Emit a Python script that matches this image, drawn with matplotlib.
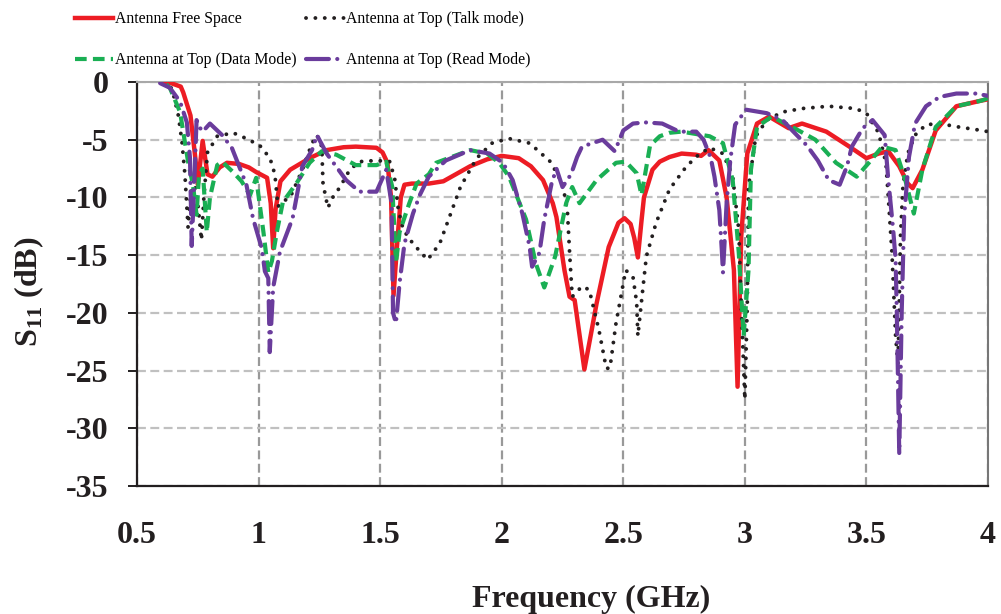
import matplotlib
matplotlib.use('Agg')
import matplotlib.pyplot as plt
from matplotlib import rcParams

rcParams['font.family'] = ['Liberation Serif', 'DejaVu Serif']
rcParams['mathtext.fontset'] = 'custom'
rcParams['mathtext.rm'] = 'Liberation Serif'
rcParams['mathtext.bf'] = 'Liberation Serif:bold'
rcParams['axes.unicode_minus'] = False

TXT = '#231F20'

# S11 curves (frequency in GHz, S11 in dB)
free_f = [0.60, 0.64, 0.68, 0.69, 0.72, 0.74, 0.75, 0.77, 0.79, 0.81, 0.84, 0.87,
          0.92, 0.96, 0.99, 1.035, 1.05, 1.06, 1.07, 1.09, 1.13, 1.21, 1.28, 1.35,
          1.40, 1.485, 1.51, 1.53, 1.545, 1.555, 1.57, 1.585, 1.60, 1.63, 1.70,
          1.76, 1.87, 1.94, 2.00, 2.07, 2.12, 2.17, 2.21, 2.225, 2.258, 2.279, 2.30,
          2.34, 2.37, 2.39, 2.44, 2.48, 2.505, 2.53, 2.545, 2.56, 2.575, 2.585,
          2.62, 2.65, 2.69, 2.74, 2.80, 2.82, 2.85, 2.895, 2.925, 2.955, 2.97,
          2.985, 3.01, 3.05, 3.10, 3.18, 3.235, 3.335, 3.43, 3.50, 3.55, 3.59,
          3.635, 3.67, 3.69, 3.73, 3.785, 3.87, 3.975, 4.00]
free_db = [0.0, -0.1, -0.4, -0.9, -2.9, -6.6, -8.9, -5.1, -8.0, -8.2, -7.4, -7.0,
           -7.1, -7.4, -7.8, -8.3, -10.5, -14.4, -11.0, -8.6, -7.6, -6.6, -5.9, -5.65,
           -5.6, -5.7, -6.1, -7.0, -10.0, -18.5, -14.0, -10.0, -8.9, -8.8, -8.8,
           -8.6, -7.3, -6.7, -6.4, -6.6, -7.3, -8.5, -10.5, -11.7, -16.3, -18.6, -18.9,
           -24.9, -21.5, -19.2, -14.3, -12.2, -11.8, -12.3, -13.5, -15.2, -12.0, -10.0,
           -7.6, -6.9, -6.5, -6.2, -6.3, -6.4, -5.9, -6.8, -10.0, -16.3, -26.4,
           -13.4, -6.2, -3.6, -3.0, -4.0, -3.6, -4.3, -5.6, -6.6, -6.2, -6.0,
           -7.3, -8.8, -9.2, -7.6, -4.2, -2.1, -1.6, -1.5]

talk_f = [0.64, 0.65, 0.67, 0.685, 0.697, 0.71, 0.72, 0.735, 0.75, 0.765, 0.775,
          0.79, 0.83, 0.895, 0.95, 1.005, 1.047, 1.067, 1.08, 1.095, 1.13, 1.18,
          1.22, 1.24, 1.26, 1.265, 1.285, 1.305, 1.335, 1.375, 1.415, 1.485, 1.54,
          1.56, 1.575, 1.595, 1.635, 1.695, 1.745, 1.785, 1.83, 1.897, 1.96, 2.03,
          2.115, 2.20, 2.25, 2.27, 2.28, 2.29, 2.33, 2.36, 2.40, 2.43, 2.445, 2.47,
          2.51, 2.54, 2.555, 2.56, 2.58, 2.595, 2.635, 2.69, 2.76, 2.81, 2.855,
          2.91, 2.95, 2.975, 2.985, 3.00, 3.01, 3.015, 3.045, 3.09, 3.155, 3.235,
          3.345, 3.455, 3.50, 3.55, 3.58, 3.59, 3.605, 3.62, 3.63, 3.64, 3.65,
          3.67, 3.70, 3.745, 3.80, 3.88, 3.975, 4.00]
talk_db = [-0.5, -1.1, -2.9, -5.2, -8.0, -12.6, -10.0, -8.5, -10.5, -13.7, -10.0,
           -6.1, -4.7, -4.4, -4.9, -5.5, -6.6, -8.0, -10.8, -10.4, -10.0, -7.6,
           -5.3, -4.6, -5.6, -8.8, -10.9, -10.0, -9.1, -7.6, -6.9, -6.8, -6.9,
           -8.4, -11.1, -12.8, -14.0, -15.4, -14.0, -11.7, -9.1, -6.6, -5.3, -4.9,
           -5.3, -6.9, -8.8, -11.1, -15.1, -18.6, -17.7, -18.0, -21.5, -24.8, -24.8, -20.9,
           -16.3, -16.9, -19.1, -22.0, -18.0, -15.1, -12.2, -9.3, -7.3, -6.3, -5.7,
           -6.2, -8.2, -12.8, -19.2, -27.5, -19.2, -9.1, -4.7, -3.3, -2.6, -2.3,
           -2.1, -2.3, -2.7, -4.4, -7.0, -10.0, -14.8, -22.0, -24.5, -13.4, -9.1,
           -6.2, -4.6, -3.7, -3.6, -3.9, -4.2, -4.3]

data_f = [0.62, 0.635, 0.677, 0.69, 0.71, 0.73, 0.745, 0.755, 0.77, 0.787, 0.80,
          0.83, 0.85, 0.895, 0.93, 0.965, 0.99, 1.02, 1.04, 1.055, 1.075, 1.10,
          1.155, 1.21, 1.26, 1.32, 1.40, 1.485, 1.525, 1.55, 1.565, 1.58, 1.62,
          1.65, 1.70, 1.73, 1.87, 1.94, 1.99, 2.03, 2.10, 2.14, 2.175, 2.22, 2.265,
          2.29, 2.32, 2.39, 2.47, 2.51, 2.555, 2.575, 2.61, 2.65, 2.69, 2.74,
          2.855, 2.91, 2.95, 2.975, 2.995, 3.015, 3.025, 3.05, 3.11, 3.195, 3.29,
          3.375, 3.46, 3.51, 3.565, 3.62, 3.66, 3.695, 3.73, 3.785, 3.87, 3.975, 4.00]
data_db = [-0.2, -0.5, -2.6, -4.3, -6.9, -8.9, -11.5, -8.0, -7.5, -13.0, -10.0,
           -7.2, -6.9, -7.8, -8.6, -9.8, -8.3, -13.0, -16.5, -15.5, -13.0, -10.4,
           -8.8, -7.0, -6.0, -6.3, -7.2, -7.2, -6.9, -9.1, -15.7, -13.0, -10.5,
           -8.8, -8.0, -7.0, -5.9, -6.2, -7.0, -8.2, -11.9, -15.7, -17.8, -15.1, -10.5,
           -9.1, -10.5, -8.5, -7.0, -6.9, -7.9, -9.8, -5.5, -4.7, -4.4, -4.3,
           -4.7, -5.3, -8.5, -14.8, -22.0, -16.3, -7.6, -3.9, -3.0, -3.9, -5.0,
           -7.0, -8.2, -7.0, -5.6, -5.9, -8.5, -11.4, -7.6, -3.9, -2.1, -1.6, -1.4]

read_f = [0.595, 0.635, 0.677, 0.705, 0.718, 0.725, 0.735, 0.745, 0.76, 0.77, 0.80,
          0.85, 0.89, 0.95, 0.977, 1.013, 1.026, 1.04, 1.046, 1.06, 1.088, 1.14,
          1.18, 1.22, 1.24, 1.28, 1.36, 1.415, 1.485, 1.525, 1.547, 1.553, 1.565,
          1.58, 1.60, 1.635, 1.663, 1.70, 1.77, 1.87, 1.95, 2.005, 2.045, 2.085,
          2.115, 2.125, 2.155, 2.175, 2.205, 2.225, 2.25, 2.285, 2.31, 2.33, 2.415,
          2.465, 2.50, 2.54, 2.59, 2.66, 2.73, 2.80, 2.83, 2.86, 2.875, 2.895,
          2.905, 2.91, 2.925, 2.94, 2.96, 3.005, 3.09, 3.155, 3.195, 3.255, 3.30,
          3.345, 3.39, 3.42, 3.44, 3.485, 3.525, 3.575, 3.59, 3.61, 3.62, 3.625,
          3.63, 3.635, 3.645, 3.655, 3.675, 3.70, 3.745, 3.80, 3.87, 3.95, 4.00]
read_db = [-0.1, -0.5, -1.7, -3.5, -6.6, -14.2, -9.0, -3.3, -4.0, -4.3, -3.6,
           -4.6, -5.7, -8.9, -11.8, -14.4, -16.4, -17.0, -23.4, -17.8, -14.7, -11.8,
           -7.3, -5.9, -4.6, -6.2, -8.5, -9.5, -9.5, -7.6, -10.5, -20.0, -20.9,
           -17.4, -14.0, -11.4, -9.8, -8.2, -6.8, -5.9, -6.2, -7.0, -8.5, -11.4,
           -14.3, -16.0, -14.8, -11.9, -8.8, -7.5, -9.1, -8.0, -6.5, -5.6, -5.0,
           -6.0, -4.2, -3.6, -3.5, -3.6, -4.3, -4.3, -5.0, -6.6, -8.2, -11.1,
           -14.5, -16.5, -10.5, -6.8, -3.7, -2.4, -2.7, -3.3, -4.2, -5.5, -6.8,
           -8.5, -8.9, -7.3, -5.6, -4.0, -3.3, -4.6, -8.5, -12.8, -15.4, -20.0,
           -26.0, -32.2, -20.0, -11.7, -6.5, -3.6, -2.1, -1.3, -1.0, -1.0, -1.2]

x_ticks = [0.5, 1, 1.5, 2, 2.5, 3, 3.5, 4]
x_ticklabels = ['0.5', '1', '1.5', '2', '2.5', '3', '3.5', '4']
y_ticks = [0, -5, -10, -15, -20, -25, -30, -35]

fig = plt.figure(figsize=(10.01, 6.14), dpi=100)
ax = fig.add_axes([137 / 1001, 1 - 486 / 614, 851 / 1001, 404 / 614])

l_free, = ax.plot(free_f, free_db, '-', color='#ED1C24', lw=3.2,
                  label='Antenna Free Space', zorder=3)
l_talk, = ax.plot(talk_f, talk_db, color='#231F20', lw=2.8, linestyle=(0, (0.01, 2.4)),
                  dash_capstyle='round', label='Antenna at Top (Talk mode)', zorder=4)
l_data, = ax.plot(data_f, data_db, color='#1AAF54', lw=3.0, linestyle=(0, (2.8, 1.5)),
                  label='Antenna at Top (Data Mode)', zorder=5)
l_read, = ax.plot(read_f, read_db, color='#6A3C9C', lw=3.0,
                  linestyle=(0, (5.5, 2.0, 0.01, 2.0)), dash_capstyle='round',
                  label='Antenna at Top (Read Mode)', zorder=6)

ax.set_xlim(0.5, 4)
ax.set_ylim(-35, 0)
ax.set_xticks(x_ticks)
ax.set_xticklabels(x_ticklabels)
ax.set_yticks(y_ticks)

# grid: light horizontal, darker vertical
ax.yaxis.grid(True, color='#C0C0C0', linestyle=(0, (4, 2)), linewidth=1.6, zorder=0)
ax.xaxis.grid(True, color='#999999', linestyle=(0, (4, 2)), linewidth=1.6, zorder=0)
ax.set_axisbelow(True)

for s in ['left', 'bottom']:
    ax.spines[s].set_color(TXT)
    ax.spines[s].set_linewidth(1.6)
ax.spines['top'].set_color('#A8A8A8')
ax.spines['top'].set_linewidth(1.5)
ax.spines['right'].set_color('#777777')
ax.spines['right'].set_linewidth(1.5)

ax.tick_params(axis='y', direction='out', length=6.7, width=1.4, color=TXT,
               pad=14, labelsize=23, labelcolor=TXT)
ax.tick_params(axis='x', length=0, pad=25, labelsize=23, labelcolor=TXT)
for lab in ax.get_xticklabels() + ax.get_yticklabels():
    lab.set_fontweight('bold')

ax.set_xlabel('Frequency (GHz)', fontsize=23, fontweight='bold', color=TXT)
ax.xaxis.set_label_coords(0.534, -0.245)
ax.set_ylabel(r'$\mathbf{S}_{\mathbf{11}}$ (dB)', fontsize=23, fontweight='bold', color=TXT)
ax.yaxis.set_label_coords(-0.107, 0.48)

# legend: left column free space / data mode, right column talk / read
handles = [l_free, l_data, l_talk, l_read]
fig.legend(handles=handles, labels=[h.get_label() for h in handles],
           loc='upper left', bbox_to_anchor=(75 / 1001, 1 - 11 / 614), ncol=2,
           frameon=False, fontsize=11.3, handlelength=2.4, handletextpad=0.15,
           columnspacing=0.6, labelspacing=1.62, borderpad=0, borderaxespad=0)

fig.savefig('out.png', dpi=100, facecolor='white')
